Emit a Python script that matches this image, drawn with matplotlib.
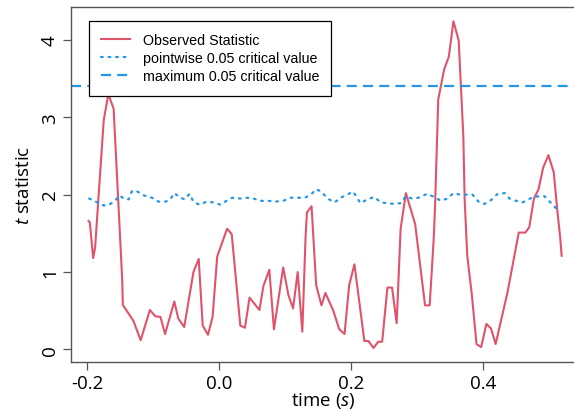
import numpy as np
import matplotlib
matplotlib.use("Agg")
from matplotlib import pyplot as plt

plt.rcParams['font.family'] = ['Open Sans', 'DejaVu Sans']
plt.rcParams['mathtext.fontset'] = 'custom'
plt.rcParams['mathtext.it'] = 'Open Sans:italic'
plt.rcParams['mathtext.rm'] = 'Open Sans'

# observed t statistic over time
obs_time = [-0.198, -0.196, -0.191, -0.188, -0.175, -0.168, -0.160, -0.147, -0.146, -0.137,
            -0.130, -0.119, -0.105, -0.097, -0.089, -0.082, -0.068, -0.062, -0.053, -0.039,
            -0.031, -0.025, -0.017, -0.010, -0.003, 0.012, 0.019, 0.032, 0.039, 0.046,
            0.061, 0.067, 0.076, 0.083, 0.097, 0.105, 0.112, 0.119, 0.126, 0.131,
            0.133, 0.140, 0.147, 0.155, 0.161, 0.173, 0.182, 0.190, 0.197, 0.205,
            0.220, 0.226, 0.234, 0.241, 0.247, 0.255, 0.262, 0.269, 0.275, 0.283,
            0.297, 0.312, 0.319, 0.325, 0.327, 0.332, 0.341, 0.348, 0.355, 0.363,
            0.370, 0.372, 0.376, 0.383, 0.390, 0.397, 0.405, 0.412, 0.419, 0.437,
            0.454, 0.464, 0.470, 0.477, 0.484, 0.491, 0.499, 0.507, 0.513, 0.517,
            0.519]
obs_stat = [1.66, 1.64, 1.18, 1.32, 2.96, 3.30, 3.11, 0.91, 0.575, 0.46,
            0.37, 0.12, 0.51, 0.43, 0.42, 0.20, 0.62, 0.40, 0.29, 1.00,
            1.17, 0.31, 0.19, 0.42, 1.20, 1.56, 1.49, 0.31, 0.28, 0.67,
            0.51, 0.82, 1.03, 0.26, 1.06, 0.70, 0.53, 1.00, 0.23, 1.47,
            1.77, 1.85, 0.83, 0.57, 0.73, 0.50, 0.26, 0.20, 0.83, 1.10,
            0.11, 0.11, 0.02, 0.10, 0.10, 0.80, 0.80, 0.34, 1.56, 2.02,
            1.62, 0.57, 0.57, 1.41, 1.81, 3.23, 3.62, 3.78, 4.24, 3.99,
            2.76, 1.94, 1.21, 0.70, 0.07, 0.03, 0.33, 0.27, 0.07, 0.74,
            1.51, 1.51, 1.58, 1.95, 2.07, 2.35, 2.51, 2.29, 1.75, 1.43,
            1.21]

# pointwise 0.05 critical value
pw_time = [-0.197, -0.185, -0.175, -0.165, -0.158, -0.151, -0.143, -0.137, -0.132, -0.124,
           -0.114, -0.102, -0.092, -0.081, -0.074, -0.068, -0.059, -0.052, -0.045, -0.039,
           -0.030, -0.019, -0.009, 0.002, 0.011, 0.020, 0.032, 0.042, 0.052, 0.063,
           0.075, 0.085, 0.097, 0.108, 0.118, 0.130, 0.140, 0.147, 0.155, 0.164,
           0.175, 0.184, 0.194, 0.203, 0.214, 0.225, 0.235, 0.245, 0.255, 0.265,
           0.275, 0.283, 0.292, 0.302, 0.315, 0.326, 0.336, 0.346, 0.355, 0.365,
           0.374, 0.384, 0.393, 0.402, 0.412, 0.422, 0.433, 0.440, 0.450, 0.460,
           0.471, 0.484, 0.493, 0.502, 0.511]
pw_crit = [1.95, 1.90, 1.86, 1.88, 1.92, 1.99, 1.94, 1.94, 2.05, 2.04,
           1.99, 1.96, 1.91, 1.91, 1.94, 2.02, 1.96, 1.94, 2.01, 1.91,
           1.87, 1.91, 1.90, 1.87, 1.92, 1.96, 1.95, 1.96, 1.95, 1.92,
           1.92, 1.91, 1.92, 1.96, 1.96, 1.96, 2.01, 2.07, 2.04, 1.95,
           1.90, 1.96, 2.00, 2.04, 1.89, 1.94, 1.97, 1.90, 1.89, 1.88,
           1.89, 1.98, 1.95, 1.96, 2.01, 1.97, 1.92, 1.95, 2.02, 2.00,
           2.00, 2.00, 1.91, 1.88, 1.93, 2.01, 2.02, 1.95, 1.92, 1.90,
           1.95, 1.98, 1.98, 1.90, 1.82]

max_crit = 3.4

red = "#DF536B"
blue = "#2297E6"

fig = plt.figure(figsize=(5.74, 4.14), dpi=100)
ax = fig.add_axes([0.1232, 0.1239, 0.8794, 0.8560])

ax.plot(obs_time, obs_stat, color=red, lw=1.5, label="Observed Statistic")
ax.plot(pw_time, pw_crit, color=blue, lw=1.6, ls=(0, (0.8, 2.6)),
        dash_capstyle='round', label="pointwise 0.05 critical value")
ax.axhline(max_crit, color=blue, lw=1.6, ls=(0, (4.5, 2.8)),
           label="maximum 0.05 critical value")

ax.set_xlim(-0.225, 0.540)
ax.set_ylim(-0.158, 4.42)
ax.set_xticks([-0.2, 0.0, 0.2, 0.4])
ax.set_xticklabels(["-0.2", "0.0", "0.2", "0.4"])
ax.set_yticks([0, 1, 2, 3, 4])

for s in ax.spines.values():
    s.set_color("#555555")
    s.set_linewidth(1.0)

ax.tick_params(direction='out', length=5.5, width=0.9, color="#555555",
               labelsize=13.5, pad=3)
for lbl in ax.get_yticklabels():
    lbl.set_rotation(90)
    lbl.set_va('center')

ax.set_xlabel(r"time ($s$)", fontsize=13.5, labelpad=-1)
ax.set_ylabel(r"$t$ statistic", fontsize=13.5, labelpad=6)

leg = ax.legend(loc='upper left', bbox_to_anchor=(89 / 574, 1 - 21.7 / 414),
                bbox_transform=fig.transFigure, borderaxespad=0,
                fancybox=False, edgecolor='black', framealpha=1,
                prop={'family': 'Liberation Sans', 'size': 10.3},
                handlelength=2.0, handletextpad=0.9, borderpad=0.85,
                labelspacing=0.3)
leg.get_frame().set_linewidth(0.9)

fig.savefig("out.png", dpi=100)
